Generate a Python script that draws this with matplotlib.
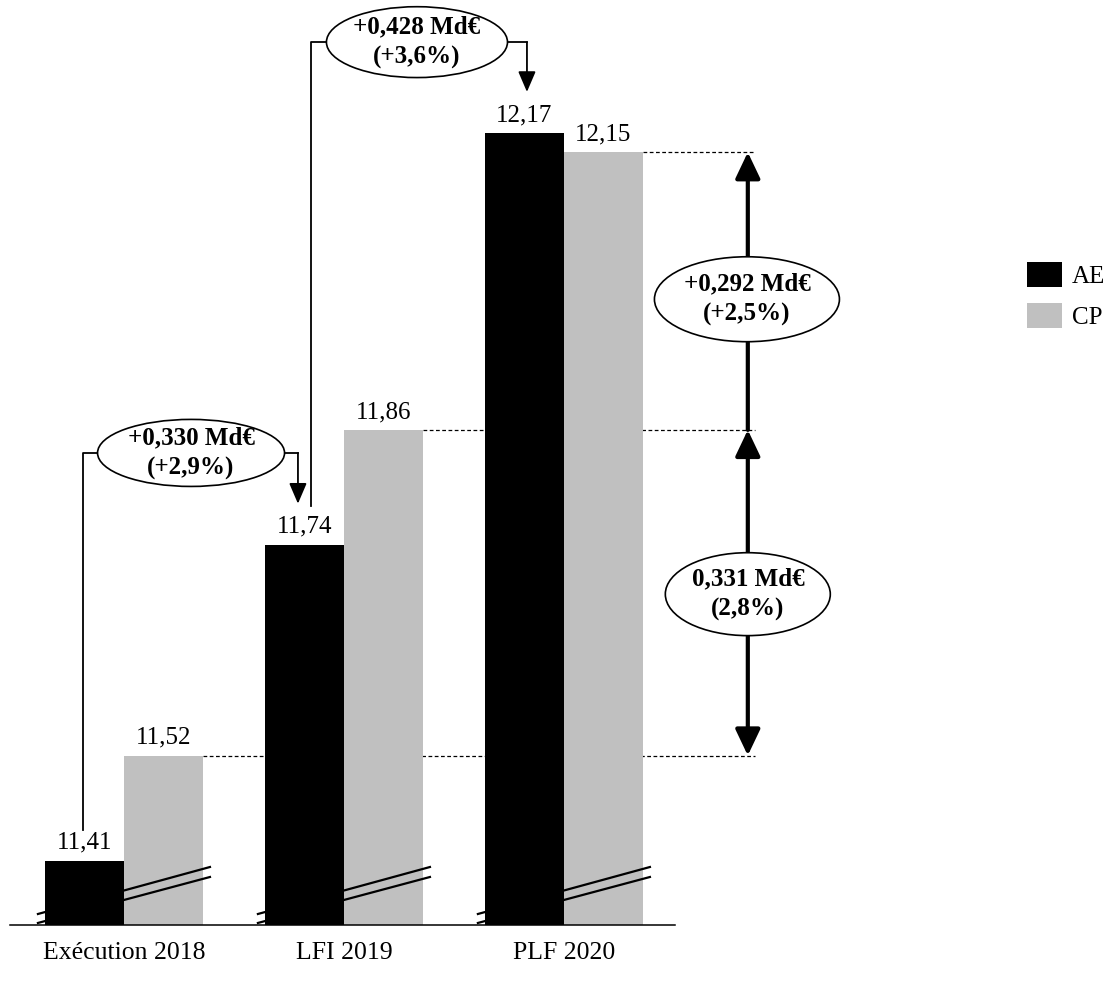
import matplotlib.pyplot as plt
from matplotlib.patches import Ellipse, Patch
import numpy as np

plt.rcParams['font.family'] = ['Liberation Serif', 'DejaVu Serif']

categories = ["Exécution 2018", "LFI 2019", "PLF 2020"]
ae = [11.41, 11.74, 12.17]
cp = [11.52, 11.86, 12.15]

# évolution annotations
evo_ae = ["+0,330 Md€\n(+2,9%)", "+0,428 Md€\n(+3,6%)"]
evo_cp = ["0,331 Md€\n(2,8%)", "+0,292 Md€\n(+2,5%)"]

ymin, ymax = 11.343, 12.309
w = 0.36
fs = 18

fig = plt.figure(figsize=(11.19, 9.81), dpi=100)
ax = fig.add_axes([10/1119, 1-925/981, 665/1119, 925/981])
x = np.arange(len(categories))

ax.bar(x - w/2, ae, w, color='black', zorder=3, label='AE')
ax.bar(x + w/2, cp, w, color='#c0c0c0', zorder=1, label='CP')

# axis break marks
tr = ax.get_xaxis_transform()
for i in x:
    ax.plot([i - 0.391, i + 0.391], [0.0119, 0.0627], color='black', lw=1.6,
            transform=tr, zorder=2, clip_on=False)
    ax.plot([i - 0.391, i + 0.391], [0.0022, 0.0519], color='black', lw=1.6,
            transform=tr, zorder=2, clip_on=False)

def fmt(v):
    return f"{v:.2f}".replace('.', ',')

for i in x:
    ax.annotate(fmt(ae[i]), (i - w/2, ae[i]), xytext=(0, 5), textcoords='offset points',
                ha='center', va='bottom', fontsize=fs)
    ax.annotate(fmt(cp[i]), (i + w/2, cp[i]), xytext=(0, 5), textcoords='offset points',
                ha='center', va='bottom', fontsize=fs)

ax.set_xlim(-0.518, 2.505)
ax.set_ylim(ymin, ymax)
ax.set_xticks(x)
ax.set_xticklabels(categories, fontsize=18.5)
ax.tick_params(axis='x', length=0, pad=12)
ax.set_yticks([])
for s in ['left', 'right', 'top']:
    ax.spines[s].set_visible(False)
ax.spines['bottom'].set_linewidth(1.1)


def bubble(cx, cy, ew, eh, txt):
    ax.add_patch(Ellipse((cx, cy), ew, eh, facecolor='white', edgecolor='black',
                         lw=1.2, zorder=5, clip_on=False))
    ax.text(cx, cy, txt, ha='center', va='center', fontsize=fs, fontweight='bold',
            linespacing=1.4, zorder=6, clip_on=False)


def connector(cx, cy, ew, xl, yl, xr, yr):
    # left branch (plain line), right branch (arrow)
    ax.plot([cx - ew/2, xl, xl], [cy, cy, yl], color='black', lw=1.3, zorder=4, clip_on=False)
    ax.plot([cx + ew/2, xr], [cy, cy], color='black', lw=1.3, zorder=4, clip_on=False)
    ax.annotate('', xy=(xr, yr), xytext=(xr, cy),
                arrowprops=dict(arrowstyle='-|>,head_length=0.7,head_width=0.3',
                                mutation_scale=18, color='black', lw=1.3,
                                shrinkA=0, shrinkB=0), zorder=4, annotation_clip=False)


# AE evolutions
connector(0.305, 11.836, 0.85, -0.186, 11.442, 0.791, 11.783)
bubble(0.305, 11.836, 0.85, 0.070, evo_ae[0])
connector(1.332, 12.265, 0.823, 0.85, 11.781, 1.832, 12.213)
bubble(1.332, 12.265, 0.823, 0.074, evo_ae[1])

# CP evolutions
xa = 2.836
for i in x:
    ax.plot([i + w, 2.868], [cp[i], cp[i]], color='black', lw=0.9, ls=(0, (3, 2)),
            zorder=0.5, clip_on=False)
ax.annotate('', xy=(xa, cp[0]), xytext=(xa, cp[1]),
            arrowprops=dict(arrowstyle='<|-|>,head_length=0.8,head_width=0.38',
                            mutation_scale=20, color='black', lw=3,
                            shrinkA=0, shrinkB=0), zorder=4, annotation_clip=False)
ax.annotate('', xy=(xa, cp[2]), xytext=(xa, cp[1]),
            arrowprops=dict(arrowstyle='-|>,head_length=0.8,head_width=0.38',
                            mutation_scale=20, color='black', lw=3,
                            shrinkA=0, shrinkB=0), zorder=4, annotation_clip=False)
bubble(xa, 11.6885, 0.75, 0.0866, evo_cp[0])
bubble(2.832, 11.9965, 0.841, 0.0887, evo_cp[1])

handles = [Patch(facecolor='black'), Patch(facecolor='#c0c0c0')]
fig.legend(handles, ['AE', 'CP'], loc='upper left', bbox_to_anchor=(1027/1119, 1-262/981),
           frameon=False, fontsize=fs, handlelength=1.4, handleheight=1.15,
           handletextpad=0.4, labelspacing=0.62, borderpad=0, borderaxespad=0)

fig.savefig('out.png', dpi=100)
